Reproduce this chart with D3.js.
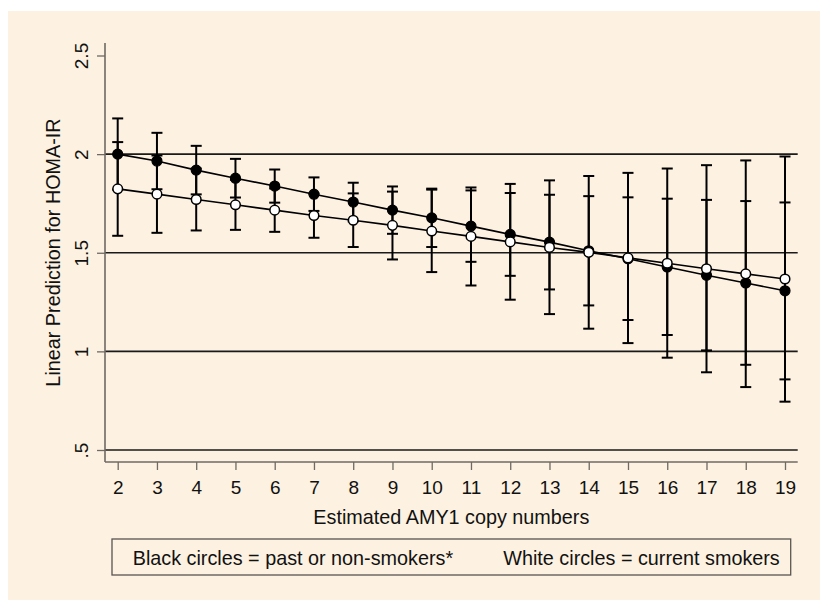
<!DOCTYPE html>
<html><head><meta charset="utf-8">
<script src="https://cdn.jsdelivr.net/npm/d3@7"></script>
<style>
html,body{margin:0;padding:0;background:#fff;}
svg text{font-family:"Liberation Sans",Arial,Helvetica,sans-serif;fill:#111;}
</style></head>
<body>
<svg id="chart" width="820" height="600"></svg>
<script>
const copyNumbers = [2,3,4,5,6,7,8,9,10,11,12,13,14,15,16,17,18,19];
const blackMean = [2.000,1.965,1.919,1.878,1.838,1.797,1.757,1.716,1.677,1.635,1.593,1.554,1.510,1.470,1.428,1.386,1.347,1.307];
const blackLo   = [1.820,1.822,1.796,1.780,1.754,1.712,1.659,1.596,1.529,1.454,1.383,1.314,1.233,1.159,1.083,1.005,0.932,0.858];
const blackHi   = [2.181,2.108,2.042,1.976,1.922,1.882,1.855,1.836,1.825,1.816,1.803,1.794,1.787,1.781,1.774,1.768,1.762,1.755];
const whiteMean = [1.824,1.797,1.770,1.743,1.716,1.689,1.665,1.639,1.610,1.583,1.555,1.527,1.502,1.474,1.447,1.419,1.393,1.367];
const whiteLo   = [1.586,1.601,1.613,1.616,1.606,1.576,1.529,1.466,1.402,1.334,1.262,1.189,1.115,1.042,0.968,0.894,0.819,0.745];
const whiteHi   = [2.061,1.993,1.927,1.870,1.826,1.800,1.801,1.810,1.820,1.831,1.849,1.867,1.889,1.905,1.927,1.944,1.968,1.988];
const yTicks = [0.5,1,1.5,2,2.5];
const yTickLabels = [".5","1","1.5","2","2.5"];
const gridValues = [0.5,1,1.5,2];
const xTitle = "Estimated AMY1 copy numbers";
const yTitle = "Linear Prediction for HOMA-IR";
const legendBlack = "Black circles = past or non-smokers*";
const legendWhite = "White circles = current smokers";

const svg = d3.select("#chart");
const bg = "#fdf1e1";
svg.append("rect").attr("x",8).attr("y",11).attr("width",812).attr("height",589).attr("fill",bg);

const plotL = 105, plotR = 797.7, plotT = 43, plotB = 462;
const x = d3.scaleLinear().domain([2,19]).range([117.7,785]);
const y = d3.scaleLinear().domain([0.5,2.5]).range([450,55.5]);

// gridlines
svg.append("g").selectAll("line").data(gridValues).join("line")
  .attr("x1",plotL).attr("x2",plotR)
  .attr("y1",d=>y(d)).attr("y2",d=>y(d))
  .attr("stroke","#1a1a1a").attr("stroke-width",1.6);

// axes
const axisColor = "#6f6a64";
const yAxis = svg.append("g").attr("transform",`translate(${plotL},0)`)
  .call(d3.axisLeft(y).tickValues(yTicks).tickFormat((d,i)=>yTickLabels[i]).tickSize(8).tickSizeOuter(0));
yAxis.select(".domain").remove();
yAxis.selectAll(".tick line").attr("stroke",axisColor).attr("stroke-width",1.3);
yAxis.selectAll(".tick text")
  .attr("x",0).attr("y",0).attr("dy",null)
  .attr("transform","translate(-17,0) rotate(-90)")
  .attr("text-anchor","middle")
  .style("font-size","19px").style("font-family",null).attr("fill","#111");
svg.append("line").attr("x1",plotL).attr("x2",plotL).attr("y1",plotT).attr("y2",plotB)
  .attr("stroke",axisColor).attr("stroke-width",1.6);

const xAxis = svg.append("g").attr("transform",`translate(0,${plotB})`)
  .call(d3.axisBottom(x).tickValues(copyNumbers).tickFormat(d3.format("d")).tickSize(8).tickSizeOuter(0));
xAxis.select(".domain").remove();
xAxis.selectAll(".tick line").attr("stroke",axisColor).attr("stroke-width",1.3);
xAxis.selectAll(".tick text").attr("y",32).attr("dy",null)
  .style("font-size","19px").style("font-family",null).attr("fill","#111");
svg.append("line").attr("x1",plotL).attr("x2",plotR).attr("y1",plotB).attr("y2",plotB)
  .attr("stroke",axisColor).attr("stroke-width",1.6);

// titles
svg.append("text").attr("x",(plotL+plotR)/2).attr("y",524).attr("text-anchor","middle")
  .style("font-size","19.8px").text(xTitle);
svg.append("text").attr("transform",`translate(60,${(plotT+plotB)/2}) rotate(-90)`)
  .attr("text-anchor","middle").style("font-size","19.8px").text(yTitle);

// error bars
function caps(g, lo, hi){
  const d = copyNumbers.map((c,i)=>({c,lo:lo[i],hi:hi[i]}));
  const gg = svg.append("g").attr("stroke","#000").attr("stroke-width",2);
  gg.selectAll(".v").data(d).join("line")
    .attr("x1",e=>x(e.c)).attr("x2",e=>x(e.c)).attr("y1",e=>y(e.lo)).attr("y2",e=>y(e.hi));
  gg.selectAll(".t").data(d).join("line")
    .attr("x1",e=>x(e.c)-5.5).attr("x2",e=>x(e.c)+5.5).attr("y1",e=>y(e.hi)).attr("y2",e=>y(e.hi));
  gg.selectAll(".b").data(d).join("line")
    .attr("x1",e=>x(e.c)-5.5).attr("x2",e=>x(e.c)+5.5).attr("y1",e=>y(e.lo)).attr("y2",e=>y(e.lo));
}
caps(svg, blackLo, blackHi);
caps(svg, whiteLo, whiteHi);

// lines
const line = d3.line().x((d,i)=>x(copyNumbers[i])).y(d=>y(d));
svg.append("path").datum(blackMean).attr("d",line).attr("fill","none").attr("stroke","#000").attr("stroke-width",1.6);
svg.append("path").datum(whiteMean).attr("d",line).attr("fill","none").attr("stroke","#000").attr("stroke-width",1.6);

// markers
svg.append("g").selectAll("circle").data(blackMean).join("circle")
  .attr("cx",(d,i)=>x(copyNumbers[i])).attr("cy",d=>y(d)).attr("r",5)
  .attr("fill","#000").attr("stroke","#000").attr("stroke-width",1.2);
svg.append("g").selectAll("circle").data(whiteMean).join("circle")
  .attr("cx",(d,i)=>x(copyNumbers[i])).attr("cy",d=>y(d)).attr("r",4.8)
  .attr("fill","#fff").attr("stroke","#000").attr("stroke-width",1.5);

// legend
svg.append("rect").attr("x",112).attr("y",539).attr("width",678.7).attr("height",36)
  .attr("fill",bg).attr("stroke","#5a5550").attr("stroke-width",1.3);
svg.append("text").attr("x",132.7).attr("y",565).style("font-size","19.8px").text(legendBlack);
svg.append("text").attr("x",503.3).attr("y",565).style("font-size","19.8px").text(legendWhite);
</script>
</body></html>
